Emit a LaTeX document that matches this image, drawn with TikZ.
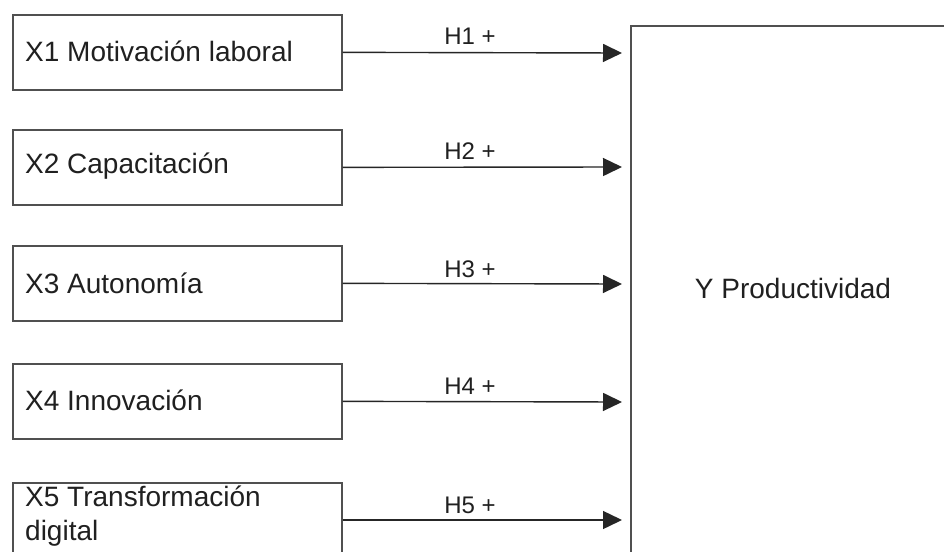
\documentclass[tikz,border=0pt]{standalone}
\usepackage{fontspec}
\setmainfont{Liberation Sans}
\usetikzlibrary{arrows.meta}
\definecolor{boxline}{HTML}{505050}
\definecolor{txt}{HTML}{202020}
\begin{document}
\begin{tikzpicture}[x=1pt,y=-1pt,
  xbox/.style={draw=boxline, line width=1.7pt, minimum width=329pt, minimum height=75pt, inner sep=0pt, anchor=north west},
  xtext/.style={text=txt, font=\fontsize{28}{34}\selectfont, anchor=west, inner sep=0pt},
  hlabel/.style={text=txt, font=\fontsize{24}{28}\selectfont, anchor=base, inner sep=0pt},
  arr/.style={draw=black!85, line width=1.4pt, -{Triangle[length=19pt,width=18pt]}},
  ybox/.style={draw=boxline, line width=1.7pt, minimum width=400pt, minimum height=600pt, inner sep=0pt, anchor=north west}]
\useasboundingbox (0,0) rectangle (944,551);
\clip (0,0) rectangle (944,551);
\fill[white] (0,0) rectangle (944,551);
% left boxes
\node[xbox] (x1) at (12,14) {};
\node[xbox] (x2) at (12,129) {};
\node[xbox] (x3) at (12,245) {};
\node[xbox] (x4) at (12,363) {};
\node[xbox, minimum height=120pt] (x5) at (12,482) {};
% texts
\node[xtext] (tx1) at (25,51.5) {X1 Motivación laboral};
\node[xtext] (tx2) at (25,166.5) {X2 Capacitación};
\node[xtext] (tx3) at (25,283) {X3 Autonomía};
\node[xtext] (tx4) at (25,400.5) {X4 Innovación};
\node[xtext, anchor=base west, align=left] (tx5) at (25,540) {X5 Transformación\\digital};
% right box
\node[ybox] (Y) at (630,25) {};
\node[text=txt, font=\fontsize{28}{34}\selectfont, inner sep=0pt] (ylab) at (793,288) {Y Productividad};
% arrow tips
\coordinate (t1) at (622,53);
\coordinate (t2) at (622,167);
\coordinate (t3) at (622,284);
\coordinate (t4) at (622,402);
\coordinate (t5) at (622,520);
\draw[arr] (x1.east) -- (t1);
\draw[arr] (x2.east) -- (t2);
\draw[arr] (x3.east) -- (t3);
\draw[arr] (x4.east) -- (t4);
\draw[arr] (x5.east |- t5) -- (t5);
% labels
\node[hlabel] (h1) at (470,45) {H1 +};
\node[hlabel] (h2) at (470,159) {H2 +};
\node[hlabel] (h3) at (470,277) {H3 +};
\node[hlabel] (h4) at (470,394) {H4 +};
\node[hlabel] (h5) at (470,513) {H5 +};
\end{tikzpicture}
\end{document}
